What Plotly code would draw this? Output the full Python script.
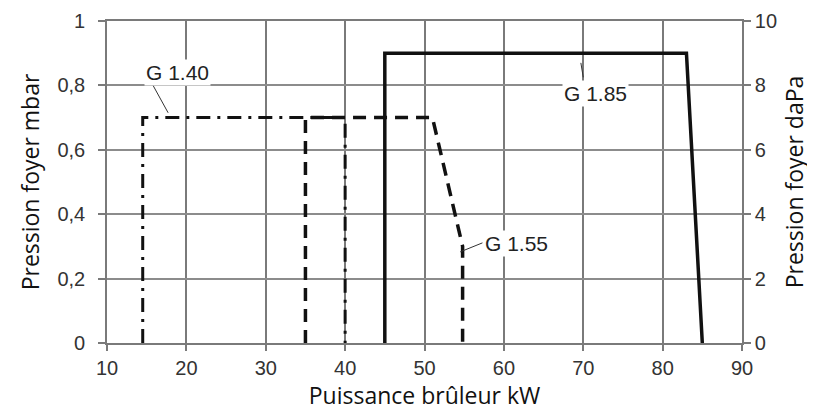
import plotly.graph_objects as go

# ---- data ----
g140_x = [14.5, 14.5, 40, 40]
g140_y = [0, 0.7, 0.7, 0]
g155_x = [35, 35, 51, 54.8, 54.8]
g155_y = [0, 0.7, 0.7, 0.3, 0]
g185_x = [45, 45, 83, 85]
g185_y = [0, 0.9, 0.9, 0]

x_ticks = [10, 20, 30, 40, 50, 60, 70, 80, 90]
y_left_vals = [0, 0.2, 0.4, 0.6, 0.8, 1]
y_left_text = ["0", "0,2", "0,4", "0,6", "0,8", "1"]
y_right_vals = [0, 2, 4, 6, 8, 10]
y_right_text = ["0", "2", "4", "6", "8", "10"]

labels = ["G 1.40", "G 1.55", "G 1.85"]
label_x = [18.9, 61.6, 71.5]
label_y = [0.84, 0.31, 0.776]
leader_x = [[15.8, 17.7], [54.5, 57.3], [69.7, 70.0]]
leader_y = [[0.80, 0.715], [0.283, 0.311], [0.87, 0.825]]

# ---- figure ----
fig = go.Figure()
ink = "#111111"
fig.add_trace(go.Scatter(x=g140_x, y=g140_y, mode="lines",
                         line=dict(color=ink, width=3, dash="14px,7px,3px,7px"),
                         showlegend=False, hoverinfo="skip"))
fig.add_trace(go.Scatter(x=g155_x, y=g155_y, mode="lines",
                         line=dict(color=ink, width=3.5, dash="13px,8px"),
                         showlegend=False, hoverinfo="skip"))
fig.add_trace(go.Scatter(x=g185_x, y=g185_y, mode="lines",
                         line=dict(color=ink, width=3.5),
                         showlegend=False, hoverinfo="skip"))
# invisible trace to activate right axis
fig.add_trace(go.Scatter(x=[10, 90], y=[0, 10], yaxis="y2", mode="markers",
                         marker=dict(opacity=0), showlegend=False, hoverinfo="skip"))

for lx, ly in zip(leader_x, leader_y):
    fig.add_trace(go.Scatter(x=lx, y=ly, mode="lines",
                             line=dict(color="#333333", width=1),
                             showlegend=False, hoverinfo="skip"))

for t, x, y in zip(labels, label_x, label_y):
    fig.add_annotation(x=x, y=y, text=t, showarrow=False, bgcolor="white",
                       borderpad=1,
                       font=dict(family="Liberation Sans", size=21, color="#222222"))

grid = "#7a7a7a"
tickfont = dict(family="Liberation Sans", size=20, color="#333333")
titlefont = dict(family="Open Sans", size=23, color="#111111")

# page body has an 8px default margin; figure is sized to fit the 815x414 window
fig.update_layout(
    width=807, height=406,
    margin=dict(l=99, r=73, t=13, b=71),
    paper_bgcolor="white", plot_bgcolor="white",
    xaxis=dict(range=[10, 90], tickvals=x_ticks, ticktext=[str(v) for v in x_ticks],
               showgrid=True, gridcolor=grid, gridwidth=1.6,
               showline=True, linecolor=grid, linewidth=1.6, mirror=True,
               ticks="outside", ticklen=6, tickcolor=grid, tickwidth=1.5,
               tickfont=tickfont, zeroline=False, automargin=False,
               title=dict(text="Puissance brûleur kW", font=titlefont, standoff=5)),
    yaxis=dict(range=[0, 1], tickvals=y_left_vals, ticktext=y_left_text,
               showgrid=True, gridcolor="#8c8c8c", gridwidth=1.5,
               showline=True, linecolor=grid, linewidth=1.6,
               ticks="outside", ticklen=7, tickcolor=grid, tickwidth=1.5,
               ticklabelstandoff=9,
               tickfont=tickfont, zeroline=False, automargin=False,
               title=dict(text="Pression foyer mbar", font=titlefont, standoff=11)),
    yaxis2=dict(range=[0, 10], tickvals=y_right_vals, ticktext=y_right_text,
                overlaying="y", side="right", showgrid=False,
                showline=True, linecolor=grid, linewidth=1.6,
                ticks="outside", ticklen=7, tickcolor=grid, tickwidth=1.5,
                tickfont=tickfont, zeroline=False, automargin=False,
                title=dict(text="Pression foyer daPa", font=titlefont, standoff=11)),
)

fig.write_html("out.html")
